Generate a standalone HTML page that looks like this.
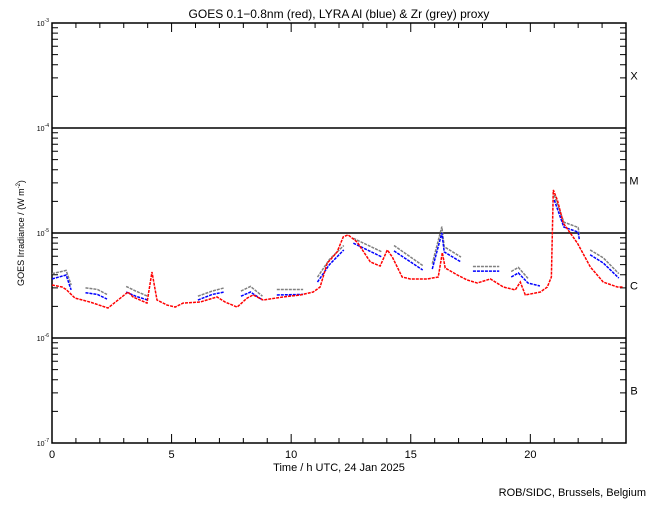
<!DOCTYPE html>
<html><head><meta charset="utf-8"><style>
body{margin:0;background:#fff}
svg text{font-family:"Liberation Sans",sans-serif;fill:#000}
</style></head><body>
<svg id="chart" width="650" height="500" viewBox="0 0 650 500" xmlns="http://www.w3.org/2000/svg">
<rect width="650" height="500" fill="#fff"/>
<text x="339" y="18" font-size="12" text-anchor="middle">GOES 0.1−0.8nm (red), LYRA Al (blue) &amp; Zr (grey) proxy</text>
<g id="axes"></g>
<g id="series"></g>
<text x="339" y="471" font-size="11" text-anchor="middle">Time / h UTC, 24 Jan 2025</text>
<text transform="translate(24,233) rotate(-90)" font-size="9" text-anchor="middle">GOES Irradiance / (W m<tspan font-size="6" dy="-4">-2</tspan><tspan dy="4">)</tspan></text>
<text x="646" y="496" font-size="11" text-anchor="end">ROB/SIDC, Brussels, Belgium</text>
</svg>
<script>
const xTicks=[0,5,10,15,20];
const yDecades=[-3,-4,-5,-6,-7];
const classLabels=['X','M','C','B'];
const redHours=[0,0.42,0.59,0.96,1.59,2.34,3.18,3.39,3.97,4.18,4.39,4.81,5.15,5.48,6.19,6.9,7.24,7.74,8.16,8.41,8.83,9.67,10.38,10.92,11.21,11.51,11.63,11.92,12.18,12.38,12.76,13.31,13.72,14.02,14.23,14.64,14.98,15.69,16.15,16.32,16.44,16.95,17.36,17.78,18.33,18.87,19.37,19.58,19.79,20.42,20.71,20.88,20.96,21.13,21.38,21.97,22.51,23.05,23.64,23.89];
const redFlux=[3.2e-6,3.06e-6,2.9e-6,2.4e-6,2.2e-6,1.93e-6,2.74e-6,2.46e-6,2.15e-6,4.25e-6,2.3e-6,2.06e-6,1.97e-6,2.15e-6,2.2e-6,2.46e-6,2.2e-6,1.97e-6,2.4e-6,2.57e-6,2.3e-6,2.46e-6,2.57e-6,2.74e-6,3.06e-6,5.18e-6,5.53e-6,6.6e-6,9.2e-6,9.6e-6,8.2e-6,5.3e-6,4.85e-6,6.9e-6,5.9e-6,3.81e-6,3.65e-6,3.65e-6,3.81e-6,6.5e-6,4.64e-6,3.98e-6,3.57e-6,3.34e-6,3.65e-6,3.06e-6,2.87e-6,3.41e-6,2.57e-6,2.74e-6,3.06e-6,3.81e-6,2.57e-5,2.06e-5,1.24e-5,8.0e-6,4.74e-6,3.41e-6,3.06e-6,3.06e-6];
const blueSegHours=[[0,0.59,0.8],[1.4,1.9,2.3],[3.1,3.5,4.0],[6.1,6.7,7.2],[7.9,8.3,8.8],[9.4,10.5],[11.1,11.6,12.2],[12.6,13.8],[14.3,15.5],[15.9,16.3,16.4,17.1],[17.6,18.7],[19.2,19.5,19.9,20.4],[21.0,21.4,22.0,22.05],[22.5,23.05,23.7]];
const blueSegFlux=[[3.65e-6,3.98e-6,2.87e-6],[2.7e-6,2.6e-6,2.35e-6],[2.74e-6,2.5e-6,2.3e-6],[2.3e-6,2.6e-6,2.74e-6],[2.5e-6,2.74e-6,2.3e-6],[2.57e-6,2.6e-6],[3.41e-6,5.0e-6,6.9e-6],[8.0e-6,5.9e-6],[6.75e-6,4.44e-6],[4.54e-6,1.0e-5,6.6e-6,5.3e-6],[4.34e-6,4.34e-6],[3.81e-6,4.16e-6,3.34e-6,3.13e-6],[2.06e-5,1.14e-5,1.02e-5,8.6e-6],[6.2e-6,5.18e-6,3.72e-6]];
const greyFlux=[[4.1e-6,4.4e-6,3.2e-6],[3.0e-6,2.9e-6,2.6e-6],[3.1e-6,2.8e-6,2.5e-6],[2.5e-6,2.8e-6,3.0e-6],[2.8e-6,3.1e-6,2.5e-6],[2.9e-6,2.9e-6],[3.8e-6,5.6e-6,7.6e-6],[8.9e-6,6.6e-6],[7.6e-6,4.9e-6],[5.1e-6,1.15e-5,7.4e-6,5.9e-6],[4.8e-6,4.8e-6],[4.3e-6,4.7e-6,3.7e-6],[2.3e-5,1.27e-5,1.13e-5,9.5e-6],[6.9e-6,5.8e-6,4.1e-6]];

const X0=52,X1=626,Y0=23,DEC=105;
const xS=h=>X0+(X1-X0)*h/24;
const yS=f=>Y0+(-3-Math.log10(f))*DEC;
const NS='http://www.w3.org/2000/svg';
function mk(tag,attrs,parent){const e=document.createElementNS(NS,tag);for(const k in attrs)e.setAttribute(k,attrs[k]);parent.appendChild(e);return e;}
const ax=document.getElementById('axes'),sr=document.getElementById('series');
const frame=mk('rect',{x:X0,y:Y0,width:X1-X0,height:4*DEC,fill:'none',stroke:'#000','stroke-width':1.5},ax);


for(let h=0;h<=24;h++){
  const len=h%5===0?9:5;
  const tb=mk('path',{d:`M${xS(h)},${Y0+4*DEC}v${-len}M${xS(h)},${Y0}v${len}`,stroke:'#000','stroke-width':1},ax);
  
  
}
xTicks.forEach(t=>{
  const tx=mk('text',{x:xS(t),y:Y0+4*DEC+15,'font-size':11,'text-anchor':'middle'},ax);
  tx.textContent=t;
  
  
});
yDecades.forEach((d,i)=>{
  const y=Y0+i*DEC;
  if(i>0&&i<4){const gl=mk('line',{x1:X0,x2:X1,y1:y,y2:y,stroke:'#000','stroke-width':1.5},ax);
    
    }
  const t=mk('text',{x:X0-3,y:y+3,'font-size':7,'text-anchor':'end'},ax);
  t.innerHTML=`10<tspan font-size="5" dy="-4">${d}</tspan>`;
  
  
  if(i<4){
    for(let m=2;m<=9;m++){
      const yy=y+DEC-Math.log10(m)*DEC;
      const mt=mk('path',{d:`M${X0},${yy}h6M${X1},${yy}h-6`,stroke:'#000','stroke-width':1},ax);
      
      
    }
    const cl=mk('text',{x:634,y:y+DEC/2+4,'font-size':11,'text-anchor':'middle'},ax);
    cl.textContent=classLabels[i];
    
    
  }
});
function line(hs,fs,color,name){
  const p=mk('polyline',{points:hs.map((h,i)=>xS(h)+','+yS(fs[i])).join(' '),fill:'none',stroke:color,'stroke-width':1.5,'stroke-dasharray':'3 1'},sr);
  
  
}
blueSegHours.forEach((hs,i)=>line(hs,greyFlux[i],'#808080','zr-grey-series'));
blueSegHours.forEach((hs,i)=>line(hs,blueSegFlux[i],'#0000ff','al-blue-series'));
line(redHours,redFlux,'#ff0000','goes-red-series');
</script>
</body></html>
